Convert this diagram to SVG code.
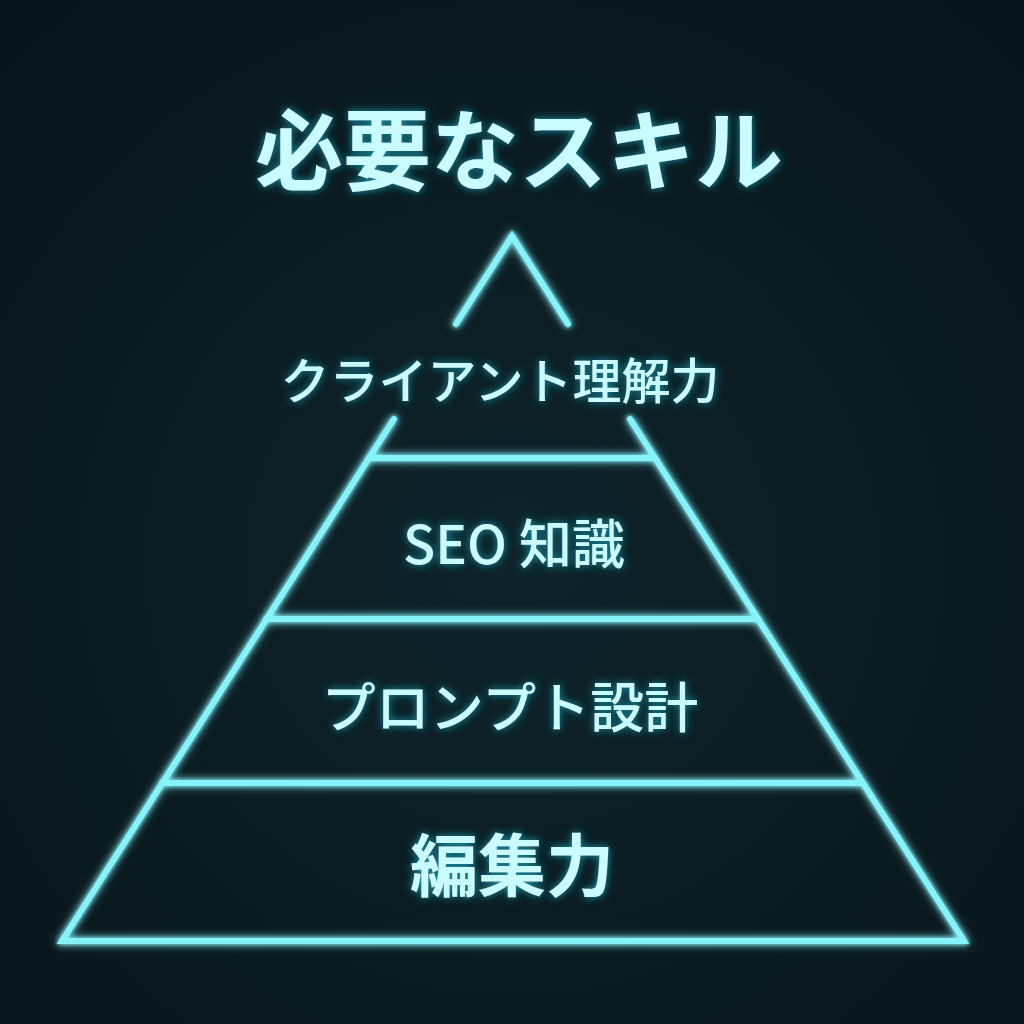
<svg xmlns="http://www.w3.org/2000/svg" width="1024" height="1024" viewBox="0 0 1024 1024">
<defs>
<radialGradient id="bg" cx="50%" cy="55%" r="70%">
<stop offset="0" stop-color="#0d2329"/>
<stop offset="1" stop-color="#08161b"/>
</radialGradient>
<filter id="glow" x="-20%" y="-20%" width="140%" height="140%">
<feGaussianBlur in="SourceGraphic" stdDeviation="5" result="b1"/>
<feGaussianBlur in="SourceGraphic" stdDeviation="2" result="b2"/>
<feMerge><feMergeNode in="b1"/><feMergeNode in="b2"/><feMergeNode in="SourceGraphic"/></feMerge>
</filter>
<filter id="tglow" x="-20%" y="-40%" width="140%" height="180%">
<feGaussianBlur in="SourceAlpha" stdDeviation="4" result="a"/>
<feFlood flood-color="#1ec8e6" flood-opacity="0.7"/>
<feComposite in2="a" operator="in" result="g"/>
<feMerge><feMergeNode in="g"/><feMergeNode in="SourceGraphic"/></feMerge>
</filter>
</defs>
<style>
.ln{stroke:#86f2fa;stroke-width:6;stroke-linecap:round;fill:none}
.tx{fill:#c9fbff;font-family:"Noto Sans CJK JP","Noto Sans",sans-serif;text-anchor:middle}
</style>
<rect width="1024" height="1024" fill="url(#bg)"/>
<g id="title" filter="url(#tglow)">
<text class="tx" x="519" y="183" font-size="88" font-weight="700">必要なスキル</text>
</g>
<g id="connectors" filter="url(#glow)">
<path class="ln" d="M456 324 L512 236 L568 324"/>
<path class="ln" d="M394 419 L369 458 L62 941 L964 941 L655 458 L630 419"/>
<line class="ln" x1="369" y1="458" x2="655" y2="458"/>
<line class="ln" x1="266" y1="619" x2="758" y2="619"/>
<line class="ln" x1="162" y1="783" x2="861" y2="783"/>
</g>
<g id="tier1" filter="url(#tglow)">
<text class="tx" x="500" y="399" font-size="49" font-weight="500">クライアント理解力</text>
</g>
<g id="tier2" filter="url(#tglow)">
<text class="tx" x="514" y="564" font-size="53" font-weight="500">SEO 知識</text>
</g>
<g id="tier3" filter="url(#tglow)">
<text class="tx" x="510" y="728" font-size="54" font-weight="500">プロンプト設計</text>
</g>
<g id="tier4" filter="url(#tglow)">
<text class="tx" x="512" y="891" font-size="68" font-weight="700">編集力</text>
</g>
</svg>
